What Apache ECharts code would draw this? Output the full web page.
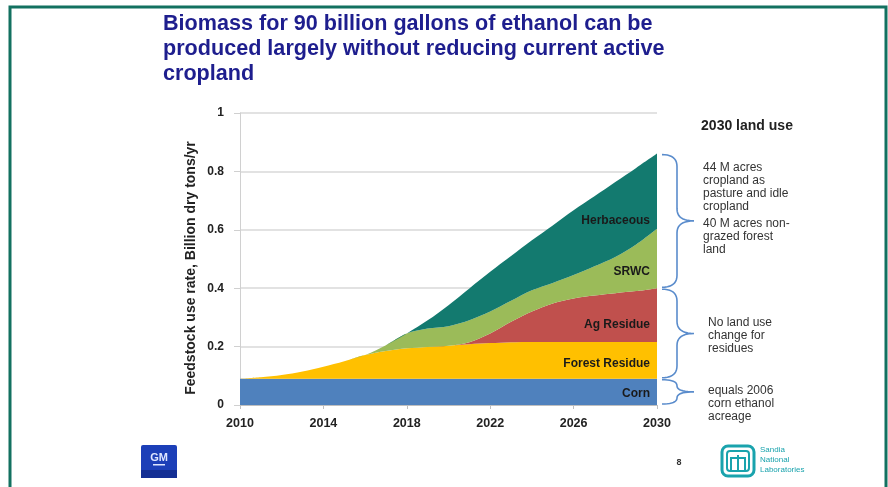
<!DOCTYPE html>
<html>
<head>
<meta charset="utf-8">
<script src="https://cdn.jsdelivr.net/npm/echarts@6/dist/echarts.min.js"></script>
<style>
html,body{margin:0;padding:0;background:#fff;}
#c{width:888px;height:487px;}
</style>
</head>
<body>
<div id="c"></div>
<script>
var years = ['2010','2011','2012','2013','2014','2015','2016','2017','2018','2019','2020','2021','2022','2023','2024','2025','2026','2027','2028','2029','2030'];
var corn = [0.09,0.09,0.09,0.09,0.09,0.09,0.09,0.09,0.09,0.09,0.09,0.09,0.09,0.09,0.09,0.09,0.09,0.09,0.09,0.09,0.09];
var forestResidue = [0,0.005,0.013,0.025,0.041,0.06,0.081,0.095,0.104,0.109,0.113,0.118,0.122,0.125,0.126,0.126,0.126,0.126,0.126,0.126,0.126];
var agResidue = [0,0,0,0,0,0,0,0,0,0,0,0.007,0.033,0.07,0.104,0.132,0.149,0.159,0.167,0.174,0.184];
var srwc = [0,0,0,0,0,0,0,0.02,0.051,0.063,0.067,0.075,0.075,0.072,0.073,0.07,0.08,0.10,0.124,0.16,0.204];
var herbaceous = [0,0,0,0,0,0,0,0,0,0.028,0.072,0.109,0.136,0.153,0.171,0.197,0.222,0.24,0.257,0.262,0.257];
var seriesNames = ['Corn','Forest Residue','Ag Residue','SRWC','Herbaceous'];
var seriesColors = ['#4f81bd','#ffc000','#c0504d','#9bbb59','#137a6f'];
var titleText = 'Biomass for 90 billion gallons of ethanol can be\nproduced largely without reducing current active\ncropland';
var yAxisName = 'Feedstock use rate, Billion dry tons/yr';
// label anchor values (cumulative y) for in-chart series labels
var labelValues = [0.038,0.14,0.274,0.455,0.63];
var noteTitle = '2030 land use';
var notes = [
  {text:'44 M acres\ncropland as\npasture and idle\ncropland', v:0.835},
  {text:'40 M acres non-\ngrazed forest\nland', v:0.642},
  {text:'No land use\nchange for\nresidues', v:0.303},
  {text:'equals 2006\ncorn ethanol\nacreage', v:0.07}
];

var FONT = '"Liberation Sans", Arial, sans-serif';
var chart = echarts.init(document.getElementById('c'), null, {renderer:'canvas'});
var dataArr = [corn, forestResidue, agResidue, srwc, herbaceous];
var series = dataArr.map(function(d, i){
  return {
    name: seriesNames[i], type:'line', stack:'total', data:d,
    smooth:0.3, symbol:'none', lineStyle:{width:0},
    areaStyle:{color:seriesColors[i], opacity:1},
    itemStyle:{color:seriesColors[i]}
  };
});
chart.setOption({
  animation:false,
  backgroundColor:'#fff',
  title:{
    text:titleText, left:158, top:7,
    textStyle:{fontFamily:FONT, fontSize:21.6, fontWeight:'bold', color:'#1e1e8e', lineHeight:25}
  },
  grid:{left:240, right:231, top:113, bottom:82},
  xAxis:{
    type:'category', data:years, boundaryGap:false,
    axisLine:{lineStyle:{color:'#bfbfbf'}},
    axisTick:{interval:3, length:4, lineStyle:{color:'#bfbfbf'}},
    axisLabel:{interval:3, fontFamily:FONT, fontSize:12.5, fontWeight:'bold', color:'#222', margin:12}
  },
  yAxis:{
    type:'value', min:0, max:1, interval:0.2,
    name:yAxisName, nameLocation:'middle', nameGap:42,
    nameTextStyle:{fontFamily:FONT, fontSize:14, fontWeight:'bold', color:'#222', padding:[0,18,0,0]},
    axisLine:{show:true, lineStyle:{color:'#d0d0d0'}},
    axisTick:{show:true, length:6, lineStyle:{color:'#d0d0d0'}},
    splitLine:{lineStyle:{color:'#d9d9d9', width:1.5}},
    axisLabel:{fontFamily:FONT, fontSize:12, fontWeight:'bold', color:'#222', margin:16}
  },
  series:series
});

function drawExtras(){
  var g = [];
  // frame
  g.push({type:'polyline', shape:{points:[[10,487],[10,7],[886,7],[886,487]]}, style:{stroke:'#137160', lineWidth:3, fill:null}, z:100});
  var last = years.length-1;
  var xr = chart.convertToPixel({xAxisIndex:0}, years[last]);
  // in-chart labels
  seriesNames.forEach(function(n,i){
    var y = chart.convertToPixel({yAxisIndex:0}, labelValues[i]);
    g.push({type:'text', x:xr-7, y:y, style:{text:n, fill:'#1a1a1a', font:'bold 12px '+FONT, textAlign:'right', textVerticalAlign:'middle'}, z:50});
  });
  // braces
  function py(v){return chart.convertToPixel({yAxisIndex:0}, v);}
  function quad(pts, p0, p1, p2){
    for (var t=0.1; t<=1.0001; t+=0.1){
      var a=(1-t)*(1-t), b=2*(1-t)*t, c=t*t;
      pts.push([a*p0[0]+b*p1[0]+c*p2[0], a*p0[1]+b*p1[1]+c*p2[1]]);
    }
  }
  var k = years.length-1;
  var top4 = corn[k]+forestResidue[k]+agResidue[k];
  var total = top4+srwc[k]+herbaceous[k];
  var bounds = [[total, top4],[top4, corn[k]],[corn[k], 0]];
  bounds.forEach(function(b){
    var y0 = py(b[0])+1, y1 = py(b[1])-1, ym = (y0+y1)/2;
    var x0 = xr+5, xb = xr+20, xt = xr+37;
    var r = Math.min(12, (y1-y0)/4);
    var pts = [[x0,y0]];
    quad(pts, [x0,y0], [xb,y0], [xb,y0+r]);
    pts.push([xb, ym-r]);
    quad(pts, [xb,ym-r], [xb,ym], [xt,ym]);
    quad(pts, [xt,ym], [xb,ym], [xb,ym+r]);
    pts.push([xb, y1-r]);
    quad(pts, [xb,y1-r], [xb,y1], [x0,y1]);
    g.push({type:'polyline', shape:{points:pts}, style:{stroke:'#5a8ccc', lineWidth:1.6, fill:null}, z:50});
  });
  // notes
  g.push({type:'text', x:xr+90, y:py(0.955), style:{text:noteTitle, fill:'#222', font:'bold 14px '+FONT, textAlign:'center', textVerticalAlign:'middle'}});
  notes.forEach(function(n, i){
    var x = (i<2) ? xr+46 : xr+51;
    g.push({type:'text', x:x, y:py(n.v), style:{text:n.text, fill:'#333', font:'12px '+FONT, lineHeight:13, textAlign:'left', textVerticalAlign:'top'}});
  });
  // GM logo
  g.push({type:'rect', shape:{x:141, y:445, width:36, height:33, r:2}, style:{fill:'#1c3fb8'}});
  g.push({type:'rect', shape:{x:141, y:470, width:36, height:8}, style:{fill:'#142f94'}});
  g.push({type:'text', x:159, y:458, style:{text:'GM', fill:'#dfe6ff', font:'bold 11px '+FONT, textAlign:'center', textVerticalAlign:'middle'}});
  g.push({type:'rect', shape:{x:153, y:464, width:12, height:1.5}, style:{fill:'#dfe6ff'}});
  // page number
  g.push({type:'text', x:679, y:463, style:{text:'8', fill:'#333', font:'bold 9px '+FONT, textAlign:'center', textVerticalAlign:'middle'}});
  // Sandia logo
  g.push({type:'rect', shape:{x:722, y:446, width:32, height:30, r:6}, style:{fill:'#fff', stroke:'#1aa3ad', lineWidth:3}});
  g.push({type:'rect', shape:{x:727, y:451, width:22, height:20, r:3}, style:{fill:'#fff', stroke:'#1aa3ad', lineWidth:2}});
  g.push({type:'polyline', shape:{points:[[731,470],[731,458],[745,458],[745,470]]}, style:{stroke:'#1aa3ad', lineWidth:2, fill:null}});
  g.push({type:'line', shape:{x1:738, y1:455, x2:738, y2:470}, style:{stroke:'#1aa3ad', lineWidth:2}});
  g.push({type:'text', x:760, y:460, style:{text:'Sandia\nNational\nLaboratories', fill:'#1aa3ad', font:'8px '+FONT, lineHeight:10, textAlign:'left', textVerticalAlign:'middle'}});
  chart.setOption({graphic:g});
}
drawExtras();
</script>
</body>
</html>
